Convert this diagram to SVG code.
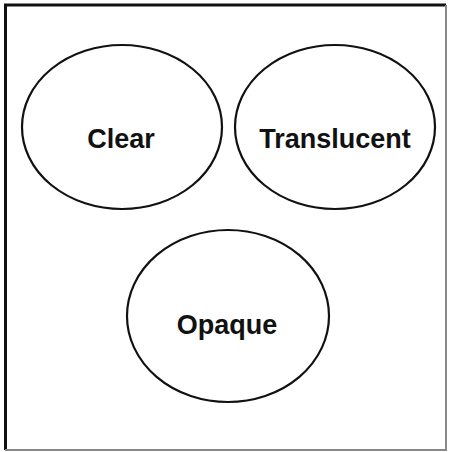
<svg xmlns="http://www.w3.org/2000/svg" width="450" height="452" viewBox="0 0 450 452">
<style>
.node ellipse{fill:#fff;stroke:#111;stroke-width:2.2}
.node text{font-family:"Liberation Sans",Arial,sans-serif;font-weight:bold;font-size:27px;fill:#111;text-anchor:middle}
</style>
<rect x="0" y="0" width="450" height="452" fill="#fff"/>
<path d="M5.5 450 V5 H446" fill="none" stroke="#111" stroke-width="3"/>
<path d="M446 5 V450 H5" fill="none" stroke="#888" stroke-width="2"/>
<g id="connectors"></g>
<g id="clear" class="node"><ellipse cx="122" cy="127" rx="100" ry="82"/><text x="121" y="148">Clear</text></g>
<g id="translucent" class="node"><ellipse cx="335" cy="127" rx="100" ry="82"/><text x="335" y="148">Translucent</text></g>
<g id="opaque" class="node"><ellipse cx="228" cy="316" rx="101" ry="86"/><text x="227" y="334">Opaque</text></g>
</svg>
